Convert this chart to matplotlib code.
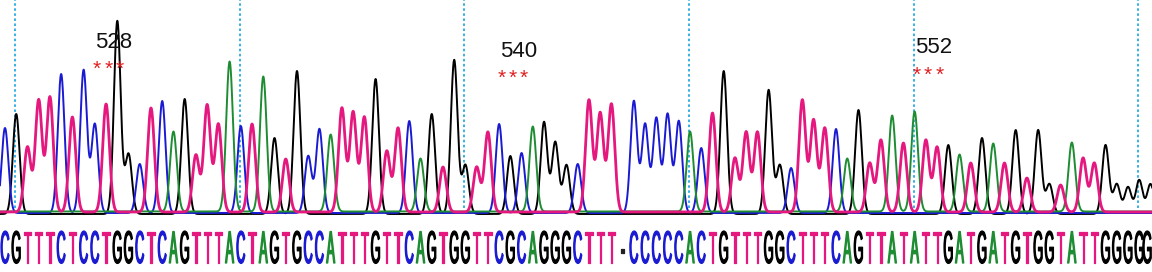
import numpy as np
import matplotlib
matplotlib.use("Agg")
import matplotlib.pyplot as plt
from matplotlib.patheffects import AbstractPathEffect
from matplotlib.transforms import Affine2D

# base calls (the "-" is a gap with no peak)
bases = list("CGTTTCTCCTGGCTCAGTTTACTAGTGCCATTTGTTCAGTGGTTCGCAGGGCTTT-"
             "CCCCCACTGTTTGGCTTTCAGTTATATTGATGATGTGGTATTGGGGG")

# peak height of each call, in pixels above the baseline
peak_heights = [
    85, 100, 65, 112, 115, 139, 95, 143, 89, 108,
    193, 60, 49, 104, 112, 80, 115, 57, 107, 88,
    150, 87, 88, 135, 76, 53, 143, 57, 84, 77,
    104, 100, 95, 135, 61, 84, 92, 53, 100, 45,
    154, 49, 45, 80, 89, 58, 60, 85, 92, 72,
    49, 49, 112, 99, 108, 0, 112, 89, 95, 99,
    92, 80, 65, 99, 143, 54, 80, 80, 124, 49,
    45, 112, 92, 84, 84, 53, 104, 49, 72, 96,
    69, 100, 72, 65, 69, 57, 49, 76, 68, 49,
    84, 34, 84, 30, 27, 69, 54, 49, 69, 30,
    27, 34, 30,
]

# codon numbers and the index of their first base
codon_numbers = [528, 540, 552]
codon_start = [8, 44, 81]

# vertical marker lines every 20 bases
marker_lines = [0.9, 20.9, 40.9, 60.9, 80.9, 100.9]

colors = {"A": "#1e8c32", "C": "#1a1ad2", "G": "#000000", "T": "#e4187e", "-": "#222222"}
base_offset = {"G": -2.0, "C": -1.0, "A": 0.5, "T": 0.0}

# layout of the number labels (height of text baseline and of the stars)
label_lift = [164, 155, 159]
star_lift = [137, 128, 131]


class Stretch(AbstractPathEffect):
    """Draw text glyphs stretched around their own centre."""

    def __init__(self, sx=1.0, sy=1.0, lw=0.0):
        super().__init__()
        self.sx, self.sy, self.lw = sx, sy, lw

    def draw_path(self, renderer, gc, tpath, affine, rgbFace=None):
        ext = tpath.get_extents()
        cx = 0.5 * (ext.x0 + ext.x1)
        tr = Affine2D().translate(-cx, 0).scale(self.sx, self.sy).translate(cx, 0) + affine
        gc0 = renderer.new_gc()
        gc0.copy_properties(gc)
        gc0.set_linewidth(self.lw)
        gc0.set_foreground(rgbFace)
        renderer.draw_path(gc0, tpath, tr, rgbFace)
        gc0.restore()


step = 11.23  # pixels per base
xmax = (1152 - 5) / step
fig = plt.figure(figsize=(11.52, 2.72), dpi=100)
ax = fig.add_axes([0, 0, 1, 1])
ax.set_xlim(-5 / step, xmax)
ax.set_ylim(-60, 212)
ax.axis("off")

for m in marker_lines:
    ax.plot([m, m], [4, 212], color="#29abe2", lw=1.3, ls=(0, (1.4, 1.4)), zorder=1)

x = np.linspace(-1, 104, 8000)
idx = np.arange(len(bases))
sigma = 0.3
for b in ["G", "C", "A", "T"]:
    sel = [i for i in idx if bases[i] == b]
    y = np.zeros_like(x) + base_offset[b]
    for i in sel:
        y += peak_heights[i] * np.exp(-((x - i) ** 2) / (2 * sigma ** 2))
    lw = 2.0 if b == "T" else 1.4
    ax.plot(x, y, color=colors[b], lw=lw, zorder=3 if b == "T" else 2)

for i, b in enumerate(bases):
    xi = min(i, xmax - 0.43)  # keep the last letter inside the picture
    ax.text(xi, -51, b, color=colors[b], fontsize=8, family="Liberation Sans",
            ha="center", va="baseline",
            path_effects=[Stretch(1.15, 4.12, 0.9)])

for num, s, ly, sy in zip(codon_numbers, codon_start, label_lift, star_lift):
    ax.text(s + 0.05, ly, str(num), fontsize=16, family="Liberation Sans",
            color="#111111", ha="left", va="baseline", zorder=4)
    for k in range(3):
        ax.text(s + k + 0.2, sy, "*", fontsize=15, family="Liberation Sans",
                color="#e02020", ha="center", va="baseline", zorder=4)

fig.savefig("out.png", dpi=100)
